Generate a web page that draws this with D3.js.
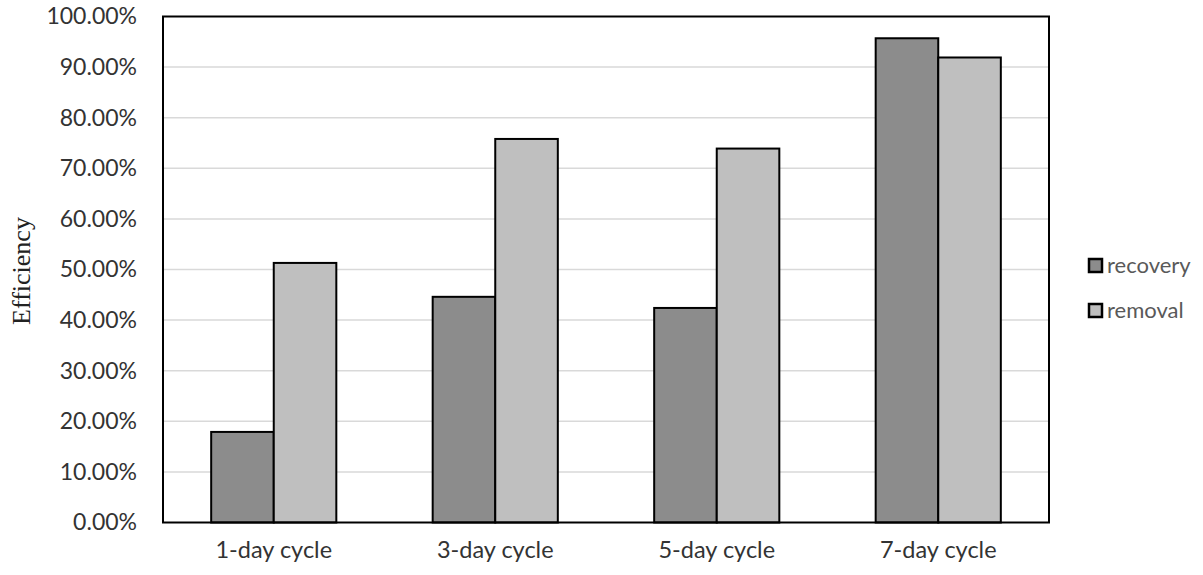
<!DOCTYPE html>
<html>
<head>
<meta charset="utf-8">
<script src="https://cdn.jsdelivr.net/npm/d3@7"></script>
<style>
  body { margin: 0; background: #fff; }
  svg text { font-family: Lato, "Liberation Sans", sans-serif; }
</style>
</head>
<body>
<div id="container"></div>
<script>
/* DATA */
const categories = ["1-day cycle", "3-day cycle", "5-day cycle", "7-day cycle"]
const seriesNames = ["recovery", "removal"]
const recovery = [0.179, 0.446, 0.424, 0.957]
const removal = [0.513, 0.758, 0.739, 0.919]
const yTicks = [0, 0.1, 0.2, 0.3, 0.4, 0.5, 0.6, 0.7, 0.8, 0.9, 1.0]

/* CONSTANTS AND GLOBALS */
const width = 1203,
  height = 575,
  margin = { top: 16.5, bottom: 52.5, left: 163, right: 154 }

const colors = { recovery: "#8c8c8c", removal: "#bfbfbf" }

const rows = categories.map((c, i) => ({ cat: c, recovery: recovery[i], removal: removal[i] }))

const svg = d3.select("#container")
  .append("svg")
  .attr("width", width)
  .attr("height", height)

const xScale = d3.scaleBand()
  .domain(categories)
  .range([margin.left, width - margin.right])

const x1 = d3.scaleBand()
  .domain(seriesNames)
  .range([0, xScale.bandwidth()])
  .paddingOuter(0.77)

const yScale = d3.scaleLinear()
  .domain([0, 1])
  .range([height - margin.bottom, margin.top])

// gridlines
svg.append("g")
  .selectAll("line")
  .data(yTicks.slice(1, -1))
  .join("line")
  .attr("x1", margin.left)
  .attr("x2", width - margin.right)
  .attr("y1", d => yScale(d))
  .attr("y2", d => yScale(d))
  .attr("stroke", "#d9d9d9")
  .attr("stroke-width", 1.5)

// bars
svg.append("g")
  .selectAll("g")
  .data(rows)
  .join("g")
  .attr("transform", d => `translate(${xScale(d.cat)},0)`)
  .selectAll("rect")
  .data(d => seriesNames.map(s => ({ s, v: d[s] })))
  .join("rect")
  .attr("x", d => x1(d.s))
  .attr("width", x1.bandwidth())
  .attr("y", d => yScale(d.v))
  .attr("height", d => yScale(0) - yScale(d.v))
  .attr("fill", d => colors[d.s])
  .attr("stroke", "#000")
  .attr("stroke-width", 2)

// plot frame
svg.append("rect")
  .attr("x", margin.left)
  .attr("y", margin.top)
  .attr("width", width - margin.right - margin.left)
  .attr("height", height - margin.bottom - margin.top)
  .attr("fill", "none")
  .attr("stroke", "#000")
  .attr("stroke-width", 2)

// y axis
const yAxis = d3.axisLeft(yScale)
  .tickValues(yTicks)
  .tickFormat(d3.format(".2%"))
  .tickSize(0)
  .tickPadding(26)

svg.append("g")
  .attr("transform", `translate(${margin.left},0)`)
  .call(yAxis)
  .call(g => g.select(".domain").remove())
  .selectAll("text")
  .attr("font-size", 23)
  .attr("fill", "#333")
  .style("font-family", "Lato, sans-serif")

// x axis
const xAxis = d3.axisBottom(xScale).tickSize(0).tickPadding(19)
svg.append("g")
  .attr("transform", `translate(0,${height - margin.bottom})`)
  .call(xAxis)
  .call(g => g.select(".domain").remove())
  .selectAll("text")
  .attr("font-size", 23.5)
  .attr("fill", "#333")
  .style("font-family", "Lato, sans-serif")

// y label
svg.append("text")
  .attr("transform", "translate(30,271) rotate(-90)")
  .attr("text-anchor", "middle")
  .style("font-family", "'Liberation Serif', serif")
  .attr("font-size", 26)
  .attr("fill", "#222")
  .text("Efficiency")

// legend
const legend = svg.append("g")
  .selectAll("g")
  .data(seriesNames)
  .join("g")
  .attr("transform", (d, i) => `translate(1089,${259 + i * 45})`)

legend.append("rect")
  .attr("width", 13)
  .attr("height", 13)
  .attr("fill", d => colors[d])
  .attr("stroke", "#000")
  .attr("stroke-width", 2.5)

legend.append("text")
  .attr("x", 18)
  .attr("y", 14)
  .attr("font-size", 22)
  .attr("fill", "#595959")
  .text(d => d)
</script>
</body>
</html>
